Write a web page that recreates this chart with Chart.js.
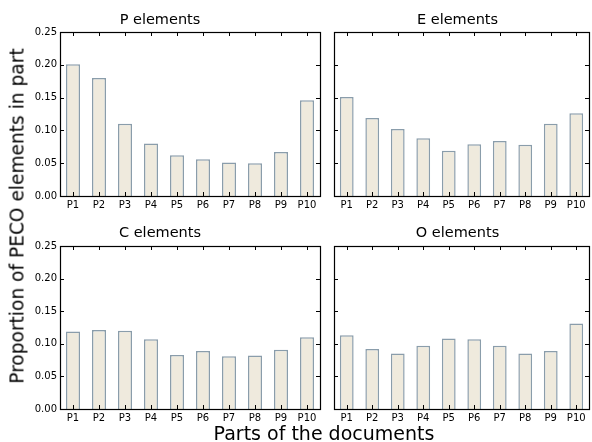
<!DOCTYPE html>
<html>
<head>
<meta charset="utf-8">
<script src="https://cdn.jsdelivr.net/npm/chart.js@4"></script>
<style>
  html, body { margin: 0; padding: 0; background: #fff; }
  #wrap { position: relative; width: 592px; height: 442px; overflow: hidden; font-family: "DejaVu Sans", sans-serif; }
  canvas { position: absolute; }
  .lbl { position: absolute; color: #000; white-space: nowrap; font-family: "DejaVu Sans", sans-serif; }
</style>
</head>
<body>
<div id="wrap">
  <canvas id="c1" width="326" height="215" style="left:0px;top:0px;"></canvas>
  <canvas id="c2" width="266" height="215" style="left:326px;top:0px;"></canvas>
  <canvas id="c3" width="326" height="213" style="left:0px;top:215px;"></canvas>
  <canvas id="c4" width="266" height="213" style="left:326px;top:215px;"></canvas>
  <div class="lbl" id="ytitle" style="font-size:18.6px; left:17px; top:216px; transform: translate(-50%,-50%) rotate(-90deg);">Proportion of PECO elements in part</div>
  <div class="lbl" id="xtitle" style="font-size:19px; left:324px; top:433px; transform: translate(-50%,-50%);">Parts of the documents</div>
</div>
<script>
const categories = ["P1","P2","P3","P4","P5","P6","P7","P8","P9","P10"];
const panelTitles = ["P elements","E elements","C elements","O elements"];
const pValues = [0.201, 0.180, 0.110, 0.080, 0.062, 0.056, 0.051, 0.050, 0.067, 0.146];
const eValues = [0.151, 0.119, 0.102, 0.088, 0.069, 0.079, 0.084, 0.078, 0.110, 0.126];
const cValues = [0.119, 0.121, 0.120, 0.107, 0.083, 0.089, 0.081, 0.082, 0.091, 0.110];
const oValues = [0.113, 0.092, 0.085, 0.097, 0.108, 0.107, 0.097, 0.085, 0.089, 0.131];
const yMin = 0, yMax = 0.25, yStep = 0.05;

const FILL = '#efeadd';
const EDGE = '#8a9dab';

const frameTicks = {
  id: 'frameTicks',
  afterDraw(chart) {
    const ctx = chart.ctx;
    const a = chart.chartArea;
    const xs = chart.scales.x, ys = chart.scales.y;
    const L = 4;
    ctx.save();
    ctx.strokeStyle = '#000';
    ctx.lineWidth = 1;
    ctx.beginPath();
    ys.ticks.forEach(t => {
      const y = Math.round(ys.getPixelForValue(t.value)) + 0.5;
      ctx.moveTo(a.left, y); ctx.lineTo(a.left + L, y);
      ctx.moveTo(a.right, y); ctx.lineTo(a.right - L, y);
    });
    categories.forEach((c, i) => {
      const x = Math.round(xs.getPixelForValue(i)) + 0.5;
      ctx.moveTo(x, a.bottom); ctx.lineTo(x, a.bottom - L);
      ctx.moveTo(x, a.top); ctx.lineTo(x, a.top + L);
    });
    ctx.stroke();
    ctx.lineWidth = 1.2;
    ctx.strokeRect(Math.round(a.left) + 0.5, Math.round(a.top) + 0.5, Math.round(a.right - a.left), Math.round(a.bottom - a.top));
    ctx.restore();
  }
};

function makeChart(id, title, values, showY, leftW, titlePad) {
  return new Chart(document.getElementById(id), {
    type: 'bar',
    data: {
      labels: categories,
      datasets: [{
        data: values,
        backgroundColor: FILL,
        borderColor: EDGE,
        borderWidth: 1.5,
        barPercentage: 0.54,
        categoryPercentage: 1.0
      }]
    },
    options: {
      responsive: false,
      animation: false,
      devicePixelRatio: 1,
      layout: { padding: { left: 0, right: showY ? 6 : 3, top: 0, bottom: 0 } },
      plugins: {
        legend: { display: false },
        tooltip: { enabled: false },
        title: {
          display: true,
          text: title,
          color: '#000',
          font: { family: 'DejaVu Sans', size: 14.5, weight: 'normal' },
          padding: titlePad
        }
      },
      scales: {
        x: {
          grid: { display: false, drawTicks: false },
          border: { display: false },
          ticks: { color: '#000', font: { family: 'DejaVu Sans', size: 10 }, padding: 3, maxRotation: 0, autoSkip: false },
          afterFit(s) { s.height = 19; }
        },
        y: {
          min: yMin, max: yMax,
          grid: { display: false, drawTicks: false },
          border: { display: false },
          ticks: {
            display: showY,
            stepSize: yStep,
            color: '#000',
            font: { family: 'DejaVu Sans', size: 10 },
            padding: 3,
            callback: v => v.toFixed(2)
          },
          afterFit(s) { s.width = leftW; }
        }
      }
    },
    plugins: [frameTicks]
  });
}

makeChart('c1', panelTitles[0], pValues, true, 60, { top: 12, bottom: 2.6 });
makeChart('c2', panelTitles[1], eValues, false, 8, { top: 12, bottom: 2.6 });
makeChart('c3', panelTitles[2], cValues, true, 60, { top: 10, bottom: 3.6 });
makeChart('c4', panelTitles[3], oValues, false, 8, { top: 10, bottom: 3.6 });
</script>
</body>
</html>
